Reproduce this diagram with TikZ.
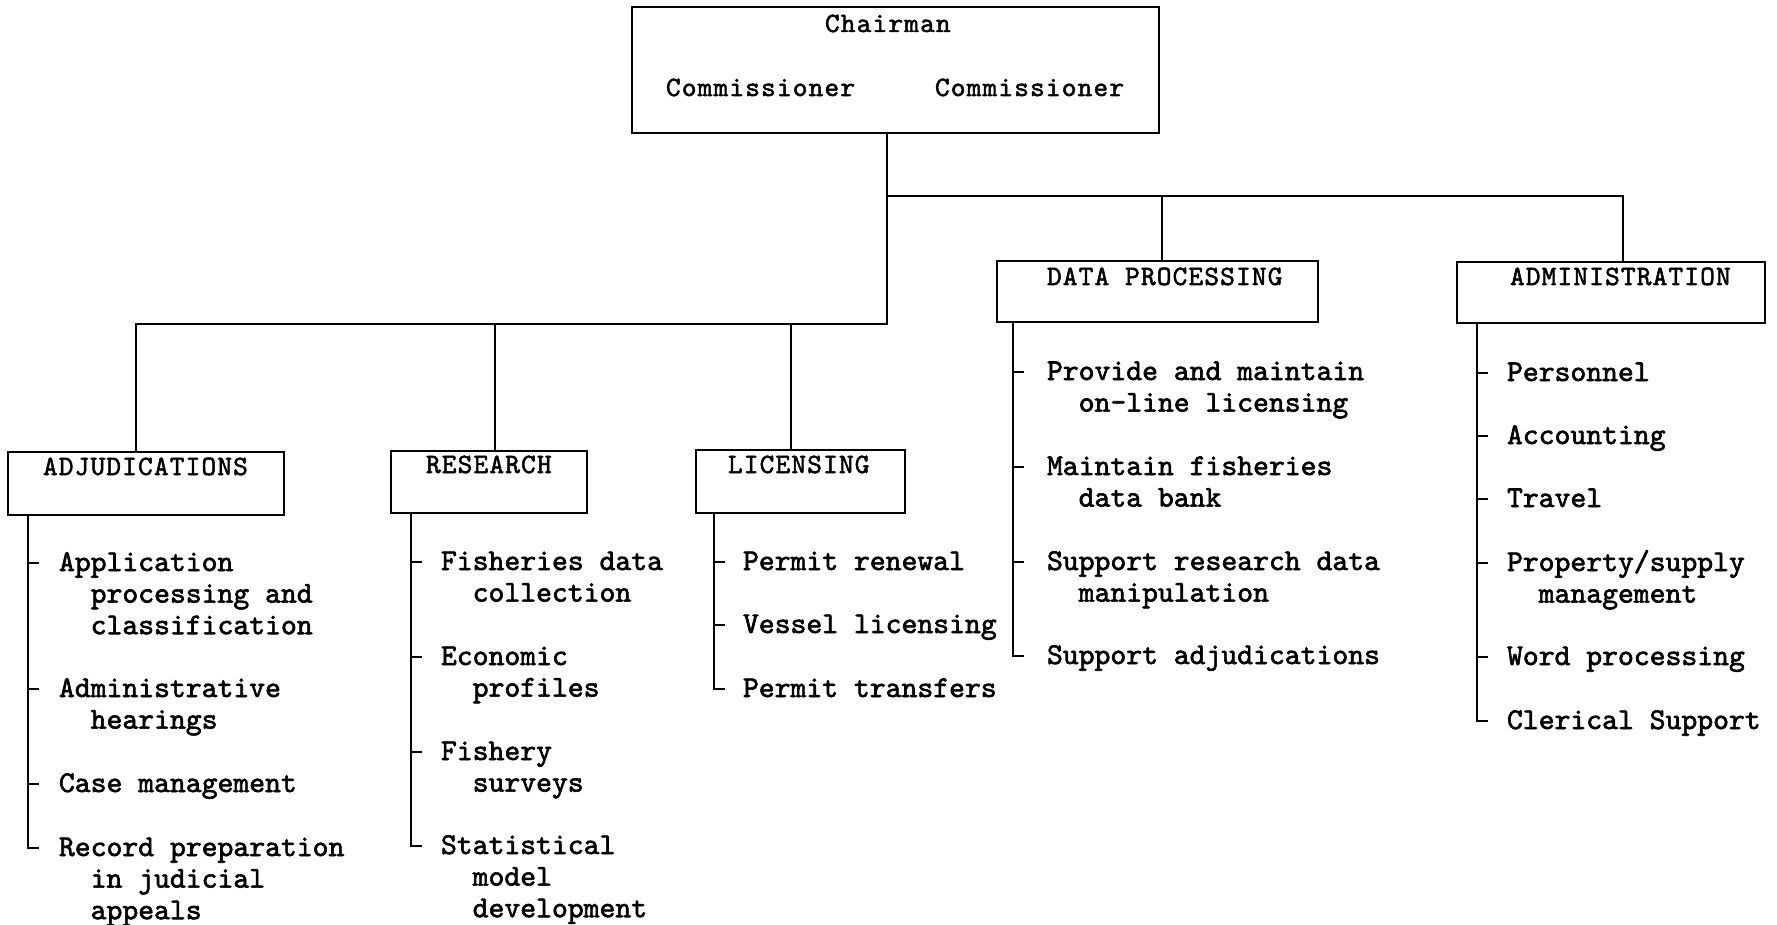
\documentclass[tikz,border=0pt]{standalone}
\usepackage{fontspec}
\usetikzlibrary{calc}
\newfontfamily\twitem{lmmono10-regular.otf}[FakeBold=2]
\newfontfamily\twhead{lmmono10-regular.otf}[FakeBold=1.8,LetterSpace=4.1]
\newcommand\indd{\hskip31.7pt}
\newcommand\itm[1]{\vtop{\baselineskip=31.6pt\lineskiplimit=-100pt #1}}
\tikzset{
  conn/.style={draw, line width=2.3pt, line cap=rect},
  box/.style={draw, line width=2.3pt, rectangle, inner sep=0pt, outer sep=0pt},
  head/.style={inner sep=0pt, outer sep=0pt, anchor=base west, font=\twhead\fontsize{28}{30}\selectfont},
  item/.style={inner sep=0pt, outer sep=0pt, anchor=base west, font=\twitem\fontsize{30.2}{31.6}\selectfont},
}
\begin{document}
\begin{tikzpicture}[x=1pt,y=-1pt]
\useasboundingbox (0,0) rectangle (1777,925);
% boxes
\node[box, minimum width=527pt, minimum height=126pt] (chair) at (895.5,70) {};
\node[box, minimum width=276pt, minimum height=63pt] (adj) at (146,483.5) {};
\node[box, minimum width=196pt, minimum height=62pt] (res) at (489,482) {};
\node[box, minimum width=209pt, minimum height=63pt] (lic) at (800.5,481.5) {};
\node[box, minimum width=321pt, minimum height=61pt] (dp) at (1157.5,291.5) {};
\node[box, minimum width=308pt, minimum height=61pt] (adm) at (1611,292.5) {};
% headings
\node[head] (chairT) at (825,32) {Chairman};
\node[head] (com1) at (666,96) {Commissioner};
\node[head] (com2) at (935,96) {Commissioner};
\node[head] (adjT) at (43,475) {ADJUDICATIONS};
\node[head] (resT) at (426,473) {RESEARCH};
\node[head] (licT) at (728,473) {LICENSING};
\node[head] (dpT) at (1047,285) {DATA PROCESSING};
\node[head] (admT) at (1510,285) {ADMINISTRATION};
% bus
\coordinate (upj) at (887,196);
\coordinate (lowj) at (887,324);
\coordinate (bAdj) at (136,324);
\coordinate (bRes) at (495,324);
\coordinate (bLic) at (791,324);
\coordinate (bDP) at (1162,196);
\coordinate (bAdm) at (1623,196);
\draw[conn] (chair.south -| upj) -- (lowj);
\draw[conn] (lowj) -- (bAdj) -- (bAdj |- adj.north);
\draw[conn] (bRes) -- (bRes |- res.north);
\draw[conn] (bLic) -- (bLic |- lic.north);
\draw[conn] (upj) -- (bAdm) -- (bAdm |- adm.north);
\draw[conn] (bDP) -- (bDP |- dp.north);
% items: adjudications
\node[item] (a1) at (59,571) {\itm{\hbox{Application}\hbox{\indd processing and}\hbox{\indd classification}}};
\node[item] (a2) at (59,697) {\itm{\hbox{Administrative}\hbox{\indd hearings}}};
\node[item] (a3) at (59,792) {\itm{\hbox{Case management}}};
\node[item] (a4) at (59,856) {\itm{\hbox{Record preparation}\hbox{\indd in judicial}\hbox{\indd appeals}}};
\coordinate (adjl) at (28,0);
\foreach \n in {a1,a2,a3} \draw[conn] ($(adjl |- \n.base)+(0,-8)$) -- ++(10,0);
\draw[conn] (adj.south -| adjl) |- ($(adjl |- a4.base)+(10,-8)$);
% research
\node[item] (r1) at (441,570) {\itm{\hbox{Fisheries data}\hbox{\indd collection}}};
\node[item] (r2) at (441,665) {\itm{\hbox{Economic}\hbox{\indd profiles}}};
\node[item] (r3) at (441,760) {\itm{\hbox{Fishery}\hbox{\indd surveys}}};
\node[item] (r4) at (441,854) {\itm{\hbox{Statistical}\hbox{\indd model}\hbox{\indd development}}};
\coordinate (resl) at (411,0);
\foreach \n in {r1,r2,r3} \draw[conn] ($(resl |- \n.base)+(0,-8)$) -- ++(10,0);
\draw[conn] (res.south -| resl) |- ($(resl |- r4.base)+(10,-8)$);
% licensing
\node[item] (l1) at (743,570) {\itm{\hbox{Permit renewal}}};
\node[item] (l2) at (743,633) {\itm{\hbox{Vessel licensing}}};
\node[item] (l3) at (743,697) {\itm{\hbox{Permit transfers}}};
\coordinate (licl) at (714,0);
\foreach \n in {l1,l2} \draw[conn] ($(licl |- \n.base)+(0,-8)$) -- ++(10,0);
\draw[conn] (lic.south -| licl) |- ($(licl |- l3.base)+(10,-8)$);
% data processing
\node[item] (d1) at (1047,380) {\itm{\hbox{Provide and maintain}\hbox{\indd on-line licensing}}};
\node[item] (d2) at (1047,475) {\itm{\hbox{Maintain fisheries}\hbox{\indd data bank}}};
\node[item] (d3) at (1047,570) {\itm{\hbox{Support research data}\hbox{\indd manipulation}}};
\node[item] (d4) at (1047,664) {\itm{\hbox{Support adjudications}}};
\coordinate (dpl) at (1013,0);
\foreach \n in {d1,d2,d3} \draw[conn] ($(dpl |- \n.base)+(0,-8)$) -- ++(10,0);
\draw[conn] (dp.south -| dpl) |- ($(dpl |- d4.base)+(10,-8)$);
% administration
\node[item] (m1) at (1507,381) {\itm{\hbox{Personnel}}};
\node[item] (m2) at (1507,444) {\itm{\hbox{Accounting}}};
\node[item] (m3) at (1507,507) {\itm{\hbox{Travel}}};
\node[item] (m4) at (1507,571) {\itm{\hbox{Property/supply}\hbox{\indd management}}};
\node[item] (m5) at (1507,665) {\itm{\hbox{Word processing}}};
\node[item] (m6) at (1507,729) {\itm{\hbox{Clerical Support}}};
\coordinate (adml) at (1477,0);
\foreach \n in {m1,m2,m3,m4,m5} \draw[conn] ($(adml |- \n.base)+(0,-8)$) -- ++(10,0);
\draw[conn] (adm.south -| adml) |- ($(adml |- m6.base)+(10,-8)$);
\end{tikzpicture}
\end{document}
